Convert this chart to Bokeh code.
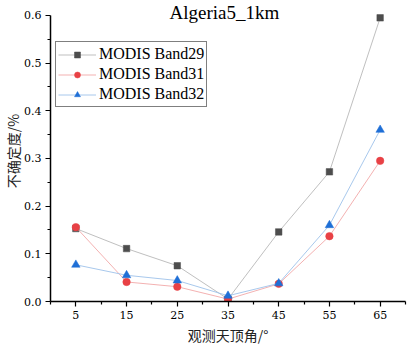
from bokeh.plotting import figure
from bokeh.models import (ColumnDataSource, Legend, LegendItem, FixedTicker,
                          Label, Range1d, NumeralTickFormatter)
from bokeh.embed import file_html
from bokeh.resources import INLINE

angles = [5, 15, 25, 35, 45, 55, 65]
band29 = [0.153, 0.111, 0.075, 0.005, 0.146, 0.272, 0.595]
band31 = [0.156, 0.041, 0.031, 0.005, 0.037, 0.137, 0.295]
band32 = [0.077, 0.055, 0.044, 0.012, 0.038, 0.160, 0.360]
series_names = ["MODIS Band29", "MODIS Band31", "MODIS Band32"]
title_text = "Algeria5_1km"
x_label = "观测天顶角/°"
y_label = "不确定度/%"

SERIF = "Liberation Serif"
TICKF = "DejaVu Serif"
CJK = "Noto Sans CJK SC"

p = figure(width=413, height=347, output_backend="svg", toolbar_location=None,
           x_range=Range1d(0, 70), y_range=Range1d(0, 0.6314),
           min_border_left=0, min_border_right=8, min_border_top=0,
           min_border_bottom=0)
p.outline_line_color = None
p.grid.grid_line_color = None
p.background_fill_color = "white"

src = ColumnDataSource(dict(x=angles, b29=band29, b31=band31, b32=band32))

l29 = p.line("x", "b29", source=src, line_color="#b8b8b8", line_width=0.9)
m29 = p.scatter("x", "b29", source=src, marker="square", size=6.5,
                fill_color="#4d4d4d", line_color="#4d4d4d", line_width=0.5)
l31 = p.line("x", "b31", source=src, line_color="#f2a8a8", line_width=0.9)
m31 = p.scatter("x", "b31", source=src, marker="circle", size=7.5,
                fill_color="#e84145", line_color="#e84145", line_width=0.5)
l32 = p.line("x", "b32", source=src, line_color="#9ec2ea", line_width=0.9)
m32 = p.scatter("x", "b32", source=src, marker="triangle", size=8.5,
                fill_color="#1f6fd6", line_color="#1f6fd6", line_width=0.5)

legend = Legend(items=[
    LegendItem(label=series_names[0], renderers=[l29, m29]),
    LegendItem(label=series_names[1], renderers=[l31, m31]),
    LegendItem(label=series_names[2], renderers=[l32, m32]),
], location=(5, 194))
legend.border_line_color = "black"
legend.border_line_width = 1.2
legend.background_fill_alpha = 1
legend.padding = 2
legend.margin = 0
legend.spacing = 0
legend.glyph_width = 38
legend.glyph_height = 15
legend.label_height = 20
legend.label_standoff = 3
legend.label_text_font = SERIF
legend.label_text_font_size = "16px"
legend.label_text_color = "black"
p.add_layout(legend, "center")

for ax in (p.xaxis[0], p.yaxis[0]):
    ax.axis_line_color = "black"
    ax.axis_line_width = 1.5
    ax.major_tick_line_width = 1.2
    ax.minor_tick_line_width = 1.2
    ax.major_tick_out = 5
    ax.major_tick_in = 0
    ax.minor_tick_out = 3
    ax.minor_tick_in = 0
    ax.major_label_text_font = TICKF
    ax.major_label_text_font_size = "11px"
    ax.major_label_text_color = "black"
    ax.axis_label_text_font = CJK
    ax.axis_label_text_font_size = "14px"
    ax.axis_label_text_font_style = "normal"
    ax.axis_label_text_color = "#222222"

p.xaxis[0].ticker = FixedTicker(ticks=[5, 15, 25, 35, 45, 55, 65],
                                minor_ticks=[0, 10, 20, 30, 40, 50, 60, 70])
p.yaxis[0].ticker = FixedTicker(ticks=[0, 0.1, 0.2, 0.3, 0.4, 0.5, 0.6],
                                minor_ticks=[0.05, 0.15, 0.25, 0.35, 0.45, 0.55])
p.yaxis[0].bounds = (0, 0.6)
p.yaxis[0].formatter = NumeralTickFormatter(format="0.0")
p.xaxis[0].axis_label = x_label
p.yaxis[0].axis_label = y_label
p.xaxis[0].major_label_standoff = 4
p.yaxis[0].major_label_standoff = 4
p.xaxis[0].axis_label_standoff = 3
p.yaxis[0].axis_label_standoff = -2

title = Label(x=34.3, y=0.6, text=title_text, text_font=SERIF,
              text_font_size="19px", text_align="center",
              text_baseline="middle", y_offset=3, text_color="black")
p.add_layout(title)

open("out.html", "w").write(file_html(p, INLINE))
